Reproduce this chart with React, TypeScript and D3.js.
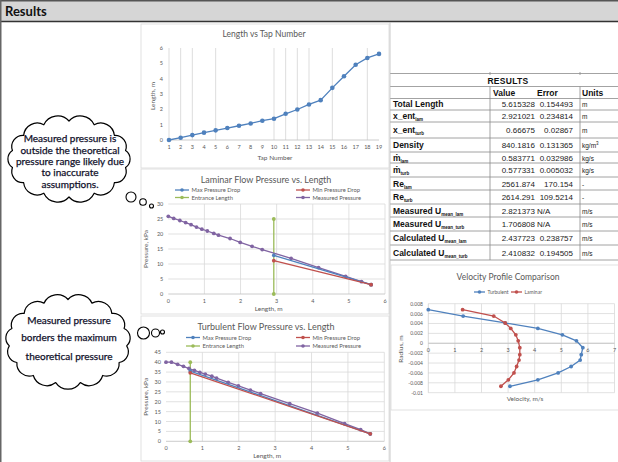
import React from "react";
import * as d3 from "d3";

// ---------- DATA ----------
const tapNumbers = [1, 2, 3, 4, 5, 6, 7, 8, 9, 10, 11, 12, 13, 14, 15, 16, 17, 18, 19];
const tapLength = [0, 0.15, 0.32, 0.48, 0.63, 0.78, 0.93, 1.08, 1.26, 1.39, 1.71, 1.99, 2.32, 2.6, 3.4, 4.16, 4.91, 5.35, 5.615];
const tapGridlines = [2, 3, 5, 10, 11, 12, 13, 15, 18];
const topYTicks = [0, 1, 2, 3, 4, 5, 6];

const lamMeasured = [25.9, 25.2, 24.5, 23.8, 23.1, 22.3, 21.6, 21.0, 20.2, 19.6, 18.5, 17.2, 15.9, 14.8, 11.9, 8.8, 5.9, 4.1, 3.1];
const lamDropX = [2.921, 5.615];
const lamMaxDrop = [12.9, 3.1];
const lamMinDrop = [11.1, 3.1];
const lamEntranceX = [2.921, 2.921];
const lamEntranceP = [0, 25];
const lamYTicks = [0, 5, 10, 15, 20, 25, 30];

const turbMeasured = [40.0, 40.0, 38.9, 37.9, 36.8, 35.9, 34.9, 34.0, 32.9, 31.9, 29.8, 28.0, 25.9, 24.1, 19.0, 14.2, 8.9, 5.9, 3.8];
const turbDropX = [0.667, 5.615];
const turbMaxDrop = [35.5, 3.8];
const turbMinDrop = [34.6, 3.8];
const turbEntranceX = [0.667, 0.667];
const turbEntranceP = [0, 40];
const turbYTicks = [0, 5, 10, 15, 20, 25, 30, 35, 40, 45];
const lengthTicks = [0, 1, 2, 3, 4, 5, 6];

const velRadius = [0.0068, 0.0055, 0.0041, 0.003, 0.0017, 0.0005, -0.0009, -0.0023, -0.0034, -0.0047, -0.006, -0.0074, -0.0087];
const velTurb = [0, 1.31, 2.89, 4.12, 5.04, 5.57, 5.81, 5.75, 5.71, 5.37, 4.88, 4.12, 3.07];
const velLam = [1.29, 2.46, 2.89, 3.1, 3.29, 3.38, 3.44, 3.44, 3.41, 3.32, 3.22, 3.01, 2.73];
const velXTicks = [0, 1, 2, 3, 4, 5, 6, 7];
const velYTicks = [0.008, 0.006, 0.004, 0.002, 0, -0.002, -0.004, -0.006, -0.008, -0.01];

const tableLabels = ["Total Length", "x_ent", "x_ent", "Density", "ṁ", "ṁ", "Re", "Re", "Measured U", "Measured U", "Calculated U", "Calculated U"];
const tableSubs = ["", "lam", "turb", "", "lam", "turb", "lam", "turb", "mean_lam", "mean_turb", "mean_lam", "mean_turb"];
const tableValues = ["5.615328", "2.921021", "0.66675", "840.1816", "0.583771", "0.577331", "2561.874", "2614.291", "2.821373", "1.706808", "2.437723", "2.410832"];
const tableErrors = ["0.154493", "0.234814", "0.02867", "0.131365", "0.032986", "0.005032", "170.154", "109.5214", "N/A", "N/A", "0.238757", "0.194505"];
const tableUnits = ["m", "m", "m", "kg/m", "kg/s", "kg/s", "-", "-", "m/s", "m/s", "m/s", "m/s"];

const cloud1Lines = ["Measured pressure is", "outside the theoretical", "pressure range likely due", "to inaccurate", "assumptions."];
const cloud2Lines = ["Measured pressure", "borders the maximum", "theoretical pressure"];

// ---------- STYLE ----------
const BLUE = "#4F81BD";
const RED = "#C0504D";
const GREEN = "#9BBB59";
const PURPLE = "#8064A2";
const GRID = "#d9d9d9";
const TXT = "#595959";
const FONT = "Lato, 'Open Sans', sans-serif";
const TFONT = "'Liberation Sans', Arial, sans-serif";

function cloudPath(cx: number, cy: number, rx: number, ry: number, n: number) {
  const pts = d3.range(n).map((i) => {
    const a = (i / n) * Math.PI * 2 - Math.PI / 2;
    return [cx + rx * Math.cos(a), cy + ry * Math.sin(a)];
  });
  let d = `M${pts[0][0]},${pts[0][1]}`;
  for (let i = 0; i < n; i++) {
    const p = pts[i];
    const q = pts[(i + 1) % n];
    const ch = Math.hypot(q[0] - p[0], q[1] - p[1]);
    const r = ch * 0.6;
    d += ` A${r},${r} 0 0 1 ${q[0]},${q[1]}`;
  }
  return d + "Z";
}

function Legend({ x, y, color, label, fs = 5.8, len = 14 }: { x: number; y: number; color: string; label: string; fs?: number; len?: number }) {
  return (
    <g>
      <line x1={x} x2={x + len} y1={y} y2={y} stroke={color} strokeWidth={1.3} />
      <circle cx={x + len / 2} cy={y} r={1.8} fill={color} />
      <text x={x + len + 2.5} y={y + 2} fontSize={fs} fill={TXT} fontFamily={FONT}>{label}</text>
    </g>
  );
}

function Series({ xs, ys, x, y, color, r = 1.9 }: any) {
  const pts = xs.map((v: number, i: number) => [x(v), y(ys[i])] as [number, number]);
  const line = d3.line();
  return (
    <g>
      <path d={line(pts) || ""} fill="none" stroke={color} strokeWidth={1.3} />
      {pts.map((p: number[], i: number) => (
        <circle key={i} cx={p[0]} cy={p[1]} r={r} fill={color} />
      ))}
    </g>
  );
}

function PressureChart(props: any) {
  const { top, title, x0, x1, y0, y1, yMax, yTicks, measured, dropX, maxDrop, minDrop, entX, entP, legY1, legY2, legX1, legX2 } = props;
  const x = d3.scaleLinear().domain([0, 6]).range([x0, x1]);
  const y = d3.scaleLinear().domain([0, yMax]).range([y0, y1]);
  return (
    <g>
      <rect x={141} y={top} width={248} height={145} fill="#fff" stroke={GRID} strokeWidth={0.8} />
      <text x={266} y={top + 14} textAnchor="middle" fontSize={9} fill={TXT} fontFamily={FONT}>{title}</text>
      <Legend x={legX1} y={legY1} color={BLUE} label="Max Pressure Drop" />
      <Legend x={legX2} y={legY1} color={RED} label="Min Pressure Drop" />
      <Legend x={legX1} y={legY2} color={GREEN} label="Entrance Length" />
      <Legend x={legX2} y={legY2} color={PURPLE} label="Measured Pressure" />
      {yTicks.filter((t: number) => t > 0).map((t: number) => (
        <line key={"h" + t} x1={x0} x2={x1} y1={y(t)} y2={y(t)} stroke={GRID} strokeWidth={0.8} />
      ))}
      {lengthTicks.filter((t) => t > 0).map((t) => (
        <line key={"v" + t} x1={x(t)} x2={x(t)} y1={y1} y2={y0} stroke={GRID} strokeWidth={0.8} />
      ))}
      <line x1={x0} x2={x1} y1={y0} y2={y0} stroke="#bfbfbf" strokeWidth={0.8} />
      {yTicks.map((t: number) => (
        <text key={"yl" + t} x={x0 - 5} y={y(t) + 2} textAnchor="end" fontSize={5.5} fill={TXT} fontFamily={FONT}>{t}</text>
      ))}
      {lengthTicks.map((t) => (
        <text key={"xl" + t} x={x(t)} y={y0 + 9} textAnchor="middle" fontSize={5.5} fill={TXT} fontFamily={FONT}>{t}</text>
      ))}
      <text x={(x0 + x1) / 2 - 8} y={y0 + 17} textAnchor="middle" fontSize={6.5} fill={TXT} fontFamily={FONT}>Length, m</text>
      <text transform={`translate(${148},${(y0 + y1) / 2}) rotate(-90)`} textAnchor="middle" fontSize={6.5} fill={TXT} fontFamily={FONT}>Pressure, kPa</text>
      <Series xs={entX} ys={entP} x={x} y={y} color={GREEN} />
      <Series xs={tapLength} ys={measured} x={x} y={y} color={PURPLE} />
      <Series xs={dropX} ys={maxDrop} x={x} y={y} color={BLUE} />
      <Series xs={dropX} ys={minDrop} x={x} y={y} color={RED} />
    </g>
  );
}

function TopChart() {
  const x = d3.scalePoint<number>().domain(tapNumbers).range([169, 379]);
  const y = d3.scaleLinear().domain([0, 6]).range([140, 48]);
  const pts = tapNumbers.map((t, i) => [x(t) as number, y(tapLength[i])] as [number, number]);
  return (
    <g>
      <rect x={141} y={24} width={248} height={144} fill="#fff" stroke={GRID} strokeWidth={0.8} />
      <text x={264} y={37} textAnchor="middle" fontSize={8.5} fill={TXT} fontFamily={FONT}>Length vs Tap Number</text>
      {[1, ...tapGridlines].map((t) => (
        <line key={t} x1={x(t)} x2={x(t)} y1={48} y2={140} stroke={GRID} strokeWidth={0.9} />
      ))}
      <line x1={169} x2={379} y1={140} y2={140} stroke="#bfbfbf" strokeWidth={0.8} />
      {topYTicks.map((t) => (
        <text key={t} x={163} y={y(t) + 2} textAnchor="end" fontSize={5.5} fill={TXT} fontFamily={FONT}>{t}</text>
      ))}
      {tapNumbers.map((t) => (
        <text key={t} x={x(t)} y={149} textAnchor="middle" fontSize={5.5} fill={TXT} fontFamily={FONT}>{t}</text>
      ))}
      <text x={275} y={160} textAnchor="middle" fontSize={6.5} fill={TXT} fontFamily={FONT}>Tap Number</text>
      <text transform="translate(155,96) rotate(-90)" textAnchor="middle" fontSize={6.5} fill={TXT} fontFamily={FONT}>Length, m</text>
      <path d={d3.line()(pts) || ""} fill="none" stroke={BLUE} strokeWidth={1.3} />
      {pts.map((p, i) => (
        <circle key={i} cx={p[0]} cy={p[1]} r={2.3} fill={BLUE} />
      ))}
    </g>
  );
}

function VelocityChart() {
  const x = d3.scaleLinear().domain([0, 7]).range([428.3, 614.5]);
  const y = d3.scaleLinear().domain([-0.01, 0.008]).range([392.7, 303.7]);
  const fmt = (v: number) => String(Math.round(v * 1000) / 1000);
  return (
    <g>
      <rect x={391} y={265} width={240} height={145} fill="#fff" stroke={GRID} strokeWidth={0.8} />
      <text x={508} y={280} textAnchor="middle" fontSize={8.5} fill={TXT} fontFamily={FONT}>Velocity Profile Comparison</text>
      <Legend x={474} y={292} color={BLUE} label="Turbulent" fs={5} len={11} />
      <Legend x={511} y={292} color={RED} label="Laminar" fs={5} len={11} />
      {velYTicks.map((t) => (
        <line key={"h" + t} x1={x(0)} x2={x(7)} y1={y(t)} y2={y(t)} stroke={GRID} strokeWidth={0.8} />
      ))}
      {velXTicks.filter((t) => t > 0).map((t) => (
        <line key={"v" + t} x1={x(t)} x2={x(t)} y1={y(0.008)} y2={y(-0.01)} stroke={GRID} strokeWidth={0.8} />
      ))}
      <line x1={x(0)} x2={x(7)} y1={y(0)} y2={y(0)} stroke="#bfbfbf" strokeWidth={0.8} />
      <line x1={x(0)} x2={x(0)} y1={y(0.008)} y2={y(-0.01)} stroke="#bfbfbf" strokeWidth={0.6} />
      {velYTicks.map((t) => (
        <text key={"yl" + t} x={423} y={y(t) + 2} textAnchor="end" fontSize={5} fill={TXT} fontFamily={FONT}>{fmt(t)}</text>
      ))}
      {velXTicks.map((t) => (
        <text key={"xl" + t} x={x(t)} y={y(0) + 9} textAnchor="middle" fontSize={5.5} fill={TXT} fontFamily={FONT}>{t}</text>
      ))}
      <text x={525} y={401} textAnchor="middle" fontSize={6.5} fill={TXT} fontFamily={FONT}>Velocity, m/s</text>
      <text transform="translate(403,349) rotate(-90)" textAnchor="middle" fontSize={6.5} fill={TXT} fontFamily={FONT}>Radius, m</text>
      <Series xs={velTurb} ys={velRadius} x={x} y={y} color={BLUE} />
      <Series xs={velLam} ys={velRadius} x={x} y={y} color={RED} />
    </g>
  );
}

function ResultsTable() {
  const rowH = [11.5, 12, 16, 14, 11, 14, 13, 14, 13, 14, 14, 15];
  let acc = 98.5;
  const bounds = rowH.map((h) => {
    const a = acc;
    acc += h;
    return [a, acc];
  });
  const LINE = "#8c8c8c";
  return (
    <g fontFamily={TFONT}>
      <line x1={390} x2={618} y1={73.5} y2={73.5} stroke={LINE} strokeWidth={0.8} />
      <line x1={390} x2={618} y1={86.5} y2={86.5} stroke={LINE} strokeWidth={0.8} />
      <line x1={390} x2={618} y1={98.5} y2={98.5} stroke={LINE} strokeWidth={0.8} />
      <text x={508} y={84} textAnchor="middle" fontSize={8.5} fontWeight="bold" fill="#111" letterSpacing={0.3}>RESULTS</text>
      <text x={493} y={96} fontSize={8.5} fontWeight="bold" fill="#111">Value</text>
      <text x={537} y={96} fontSize={8.5} fontWeight="bold" fill="#111">Error</text>
      <text x={582} y={96} fontSize={8.5} fontWeight="bold" fill="#111">Units</text>
      {bounds.map(([a, b], i) => {
        const cy = (a + b) / 2 + 3;
        return (
          <g key={i}>
            <line x1={390} x2={618} y1={b} y2={b} stroke={LINE} strokeWidth={0.8} />
            <text x={393} y={cy} fontSize={8.5} fontWeight="bold" fill="#111">
              {tableLabels[i]}
              {tableSubs[i] ? <tspan fontSize={4.5} dy={2}>{tableSubs[i]}</tspan> : null}
            </text>
            <text x={535} y={cy} textAnchor="end" fontSize={8} fill="#222">{tableValues[i]}</text>
            <text x={tableErrors[i] === "N/A" ? 537 : 573} y={cy} textAnchor={tableErrors[i] === "N/A" ? "start" : "end"} fontSize={8} fill="#222">{tableErrors[i]}</text>
            <text x={582} y={cy} fontSize={6.5} fill="#222">
              {tableUnits[i]}
              {i === 3 ? <tspan fontSize={4.5} dy={-3}>3</tspan> : null}
            </text>
          </g>
        );
      })}
      <line x1={390} x2={390} y1={22} y2={462} stroke="#bdbdbd" strokeWidth={0.8} />
      <line x1={490} x2={490} y1={86.5} y2={acc} stroke={LINE} strokeWidth={0.8} />
      <line x1={580} x2={580} y1={86.5} y2={acc} stroke={LINE} strokeWidth={0.8} />
      <line x1={490} x2={490} y1={72} y2={75} stroke={LINE} strokeWidth={0.8} />
      <line x1={580} x2={580} y1={72} y2={75} stroke={LINE} strokeWidth={0.8} />
    </g>
  );
}

function Cloud({ cx, cy, rx, ry, n, lines, lineYs, bubbles }: any) {
  return (
    <g>
      <path d={cloudPath(cx, cy, rx, ry, n)} fill="#fff" stroke="#000" strokeWidth={1.2} strokeLinejoin="round" />
      {bubbles.map((b: number[], i: number) => (
        <circle key={i} cx={b[0]} cy={b[1]} r={b[2]} fill="#fff" stroke="#000" strokeWidth={1.1} />
      ))}
      {lines.map((l: string, i: number) => (
        <text key={i} x={cx + 1} y={lineYs[i] + 3.5} textAnchor="middle" fontSize={10} fill="#10102a" stroke="#10102a" strokeWidth={0.25} fontFamily={FONT}>{l}</text>
      ))}
    </g>
  );
}

export default function App() {
  return (
    <svg width={618} height={462} style={{ position: "absolute", left: 0, top: 0, background: "#fff" }}>
      <rect x={0} y={0} width={618} height={462} fill="#fff" />
      <rect x={0} y={1} width={618} height={20} fill="#d6d6d6" />
      <line x1={0} x2={618} y1={0.75} y2={0.75} stroke="#555" strokeWidth={1.5} />
      <line x1={0} x2={618} y1={21.5} y2={21.5} stroke="#333" strokeWidth={1.5} />
      <text x={5} y={16} fontSize={13} fontWeight="bold" fill="#111" fontFamily={FONT}>Results</text>
      <line x1={0.75} x2={0.75} y1={0} y2={462} stroke="#666" strokeWidth={1.5} />
      <TopChart />
      <PressureChart
        top={169} title="Laminar Flow Pressure vs. Length"
        x0={168.3} x1={385} y0={294} y1={204} yMax={30} yTicks={lamYTicks}
        measured={lamMeasured} dropX={lamDropX} maxDrop={lamMaxDrop} minDrop={lamMinDrop}
        entX={lamEntranceX} entP={lamEntranceP}
        legY1={190} legY2={197.5} legX1={175} legX2={296}
      />
      <PressureChart
        top={316} title="Turbulent Flow Pressure vs. Length"
        x0={166} x1={384.3} y0={441.3} y1={352.3} yMax={45} yTicks={turbYTicks}
        measured={turbMeasured} dropX={turbDropX} maxDrop={turbMaxDrop} minDrop={turbMinDrop}
        entX={turbEntranceX} entP={turbEntranceP}
        legY1={337.5} legY2={346} legX1={186} legX2={296}
      />
      <ResultsTable />
      <VelocityChart />
      <Cloud cx={69} cy={159} rx={58} ry={38} n={14} lines={cloud1Lines}
        lineYs={[138.5, 150.5, 161.5, 172.5, 184.5]}
        bubbles={[[131, 197, 5], [143, 202, 3.3], [151.5, 206, 2]]} />
      <Cloud cx={68} cy={341.5} rx={59} ry={42} n={15} lines={cloud2Lines}
        lineYs={[320, 337, 356]}
        bubbles={[[143.5, 333, 6], [155.5, 333, 4], [162.5, 332, 2]]} />
    </svg>
  );
}
